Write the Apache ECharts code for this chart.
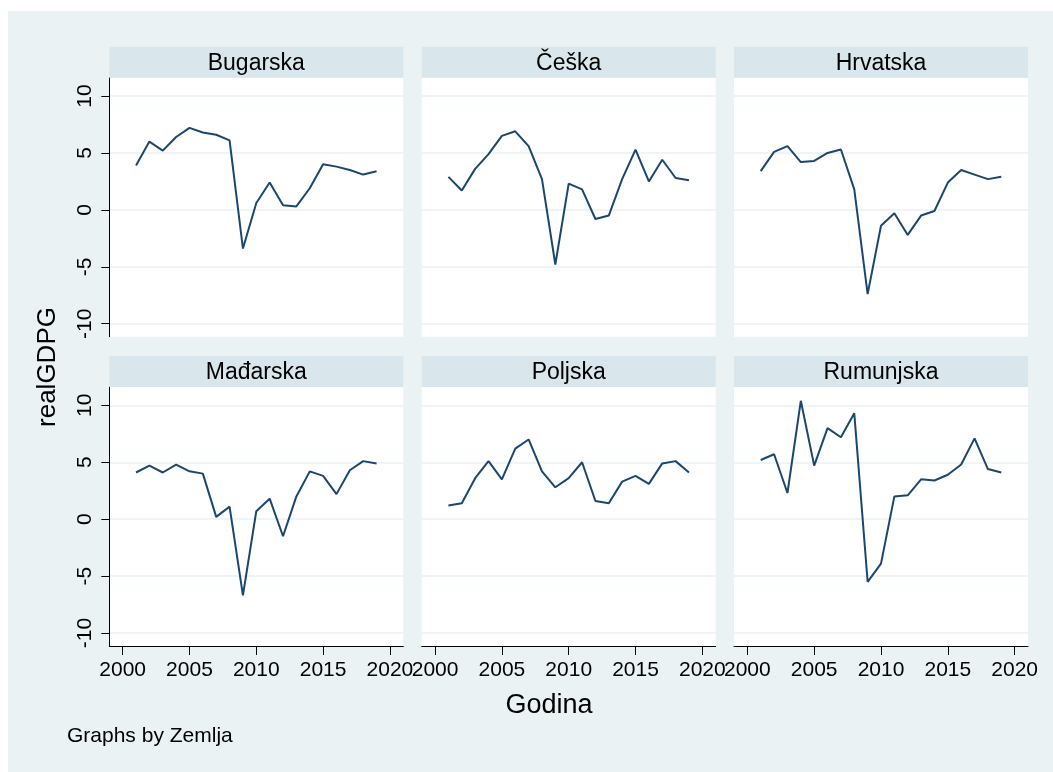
<!DOCTYPE html>
<html>
<head>
<meta charset="utf-8">
<script src="https://cdn.jsdelivr.net/npm/echarts@6/dist/echarts.min.js"></script>
<style>
html,body{margin:0;padding:0;background:#ffffff;}
#chart{width:1053px;height:772px;}
</style>
</head>
<body>
<div id="chart"></div>
<script>
// ---- data ----
const years = [2001,2002,2003,2004,2005,2006,2007,2008,2009,2010,2011,2012,2013,2014,2015,2016,2017,2018,2019];
const countries = ['Bugarska','Češka','Hrvatska','Mađarska','Poljska','Rumunjska'];
const bugarska  = [3.9,6.0,5.2,6.4,7.2,6.8,6.6,6.1,-3.4,0.6,2.4,0.4,0.3,1.9,4.0,3.8,3.5,3.1,3.4];
const ceska     = [2.9,1.7,3.6,4.9,6.5,6.9,5.6,2.7,-4.8,2.3,1.8,-0.8,-0.5,2.7,5.3,2.5,4.4,2.8,2.6];
const hrvatska  = [3.4,5.1,5.6,4.2,4.3,5.0,5.3,1.8,-7.4,-1.4,-0.3,-2.2,-0.5,-0.1,2.4,3.5,3.1,2.7,2.9];
const madarska  = [4.1,4.7,4.1,4.8,4.2,4.0,0.2,1.1,-6.7,0.7,1.8,-1.5,2.0,4.2,3.8,2.2,4.3,5.1,4.9];
const poljska   = [1.2,1.4,3.6,5.1,3.5,6.2,7.0,4.2,2.8,3.6,5.0,1.6,1.4,3.3,3.8,3.1,4.9,5.1,4.1];
const rumunjska = [5.2,5.7,2.3,10.4,4.7,8.0,7.2,9.3,-5.5,-3.9,2.0,2.1,3.5,3.4,3.9,4.8,7.1,4.4,4.1];
const seriesValues = [bugarska, ceska, hrvatska, madarska, poljska, rumunjska];
const yTicks = [-10,-5,0,5,10];
const xTicks = [2000,2005,2010,2015,2020];

// ---- layout ----
const FONT = "'Liberation Sans', Arial, Helvetica, sans-serif";
const colLeft = [109.3, 421.7, 734];
const panelW = 294;
const stripTop = [46.7, 356];
const stripH = 31;
const plotH = 259;
const LINE = '#1a476f';
const OUTER = '#eaf2f3';
const STRIP = '#d9e6eb';
const GRIDC = '#eaf2f3';

const grids = [], xAxes = [], yAxes = [], series = [], graphics = [];

graphics.push({type:'rect', shape:{x:8, y:11, width:1045, height:761}, style:{fill:OUTER}, z:-10, silent:true});

countries.forEach((name, i) => {
  const r = Math.floor(i / 3), c = i % 3;
  const top = stripTop[r] + stripH;
  grids.push({left: colLeft[c], top: top, width: panelW, height: plotH,
              show: true, backgroundColor: '#ffffff', borderWidth: 0, containLabel: false});
  const bottomRow = r === 1, leftCol = c === 0;
  xAxes.push({
    type: 'value', gridIndex: i, min: 1999, max: 2021,
    axisLine: {show: bottomRow, onZero: false, lineStyle: {color: '#000', width: 1}},
    axisTick: {show: bottomRow, customValues: xTicks, length: 9, lineStyle: {color: '#000', width: 1}},
    axisLabel: {show: bottomRow, customValues: xTicks, margin: 14, fontSize: 21, color: '#000', fontFamily: FONT,
                formatter: v => String(v)},
    splitLine: {show: false}
  });
  yAxes.push({
    type: 'value', gridIndex: i, min: -11.14, max: 11.61,
    axisLine: {show: leftCol, lineStyle: {color: '#000', width: 1}},
    axisTick: {show: leftCol, customValues: yTicks, length: 8, lineStyle: {color: '#000', width: 1}},
    axisLabel: {show: leftCol, customValues: yTicks, rotate: 90, margin: 14, fontSize: 21, color: '#000', fontFamily: FONT,
                formatter: v => String(v)},
    splitLine: {show: true, lineStyle: {color: GRIDC, width: 1.6}}
  });
  series.push({
    type: 'line', name: name, xAxisIndex: i, yAxisIndex: i,
    data: years.map((y, k) => [y, seriesValues[i][k]]),
    showSymbol: false, symbol: 'none',
    lineStyle: {color: LINE, width: 2}, itemStyle: {color: LINE},
    animation: false, z: 5
  });
  graphics.push({type:'rect', shape:{x: colLeft[c], y: stripTop[r], width: panelW, height: stripH},
                 style:{fill: STRIP}, silent: true, z: 1});
  graphics.push({type:'text', x: colLeft[c] + panelW / 2, y: stripTop[r] + stripH / 2 + 1,
                 style:{text: name, font: '23px ' + FONT, fill: '#000', textAlign: 'center', textVerticalAlign: 'middle'},
                 silent: true, z: 2});
});

graphics.push({type:'text', x: 48, y: 367, rotation: Math.PI / 2,
               style:{text: 'realGDPG', font: '26px ' + FONT, fill: '#000', textAlign: 'center', textVerticalAlign: 'middle'}, silent: true, z: 2});
graphics.push({type:'text', x: 549, y: 706,
               style:{text: 'Godina', font: '27px ' + FONT, fill: '#000', textAlign: 'center', textVerticalAlign: 'middle'}, silent: true, z: 2});
graphics.push({type:'text', x: 67, y: 736,
               style:{text: 'Graphs by Zemlja', font: '21px ' + FONT, fill: '#000', textAlign: 'left', textVerticalAlign: 'middle'}, silent: true, z: 2});

const chart = echarts.init(document.getElementById('chart'), null, {renderer: 'canvas'});
chart.setOption({
  animation: false,
  backgroundColor: '#ffffff',
  grid: grids, xAxis: xAxes, yAxis: yAxes, series: series,
  graphic: {elements: graphics}
});
</script>
</body>
</html>
